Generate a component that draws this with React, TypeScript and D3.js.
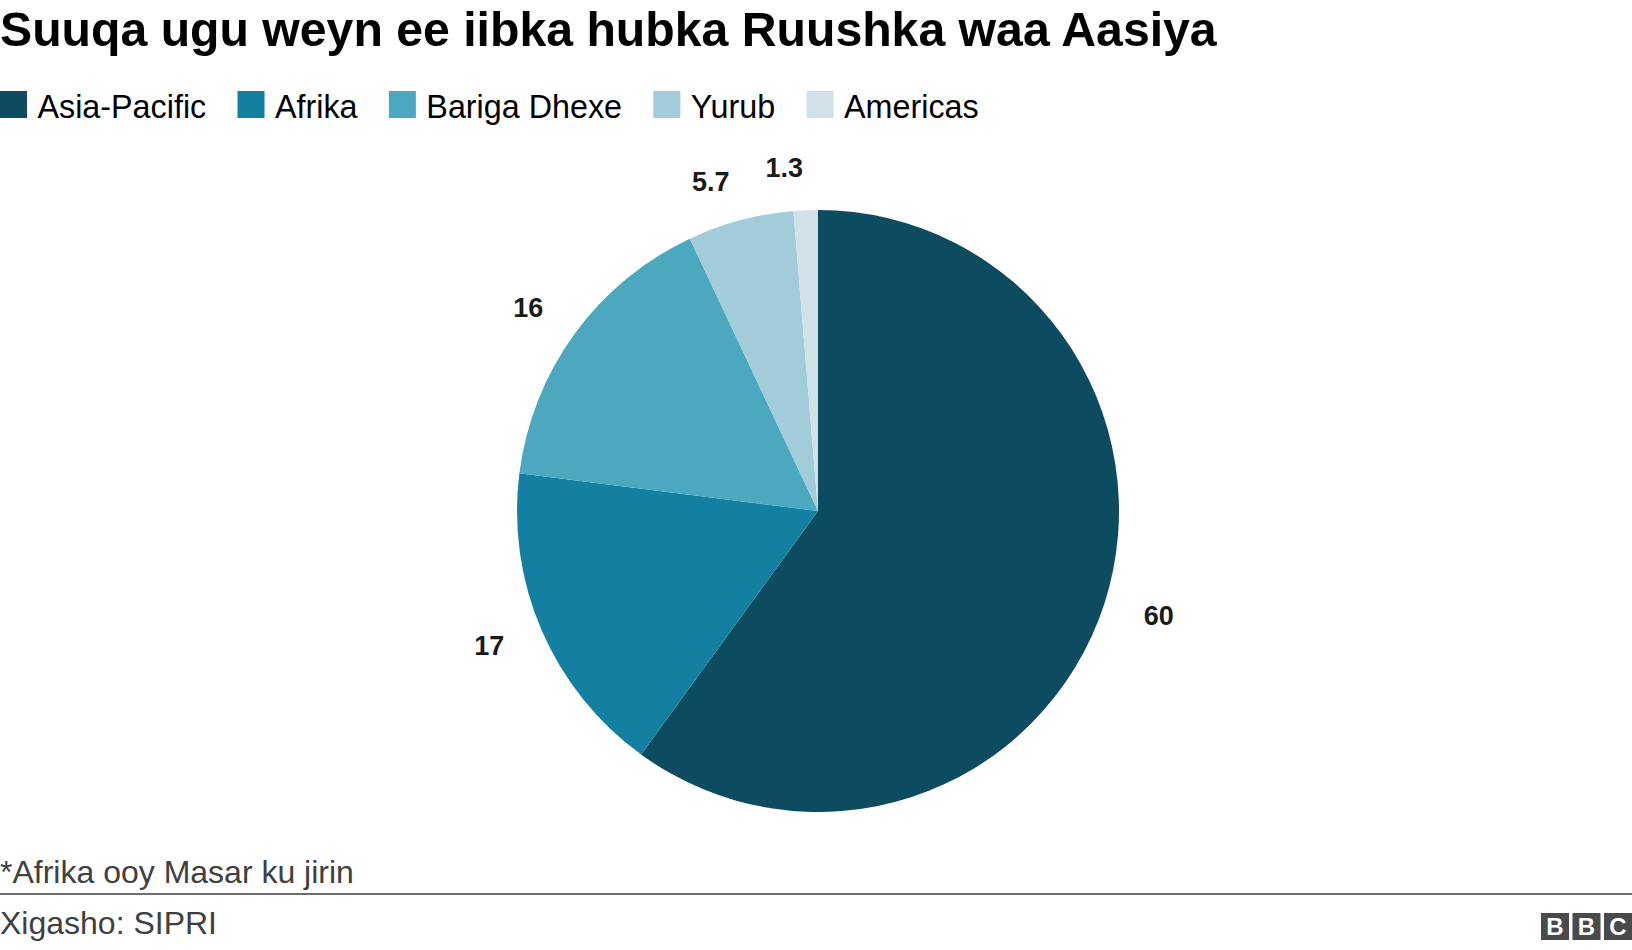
import React from "react";
import * as d3 from "d3";

const TITLE = "Suuqa ugu weyn ee iibka hubka Ruushka waa Aasiya";
const categories = ["Asia-Pacific", "Afrika", "Bariga Dhexe", "Yurub", "Americas"];
const values = [60, 17, 16, 5.7, 1.3];
const valueLabels = ["60", "17", "16", "5.7", "1.3"];
const colors = ["#0d4c60", "#1480a1", "#4ca8be", "#a3ccda", "#d0e2e7"];
const NOTE = "*Afrika ooy Masar ku jirin";
const SOURCE = "Xigasho: SIPRI";

const W = 1632;
const H = 950;
const FONT = "'Liberation Sans', Arial, Helvetica, sans-serif";

function measure(text: string, font: string): number {
  const c = document.createElement("canvas");
  const ctx = c.getContext("2d")!;
  ctx.font = font;
  return ctx.measureText(text).width;
}

export default function App() {
  const cx = 818;
  const cy = 511;
  const r = 301;
  const Rx = r * 1.19;
  const Ry = r * 1.14;

  const pie = d3
    .pie<number>()
    .sort(null)
    .startAngle(0)
    .endAngle(2 * Math.PI)
    .value((d) => d);
  const arcs = pie(values);
  const arcGen = d3.arc<d3.PieArcDatum<number>>().innerRadius(0).outerRadius(r);

  // label placement: keep labels off the 12 o'clock line, keep spacing
  const labelFont = `bold 27px ${FONT}`;
  const widths = valueLabels.map((t) => measure(t, labelFont));
  const angles = arcs.map((a) => (a.startAngle + a.endAngle) / 2);
  const pad = 15;
  const pos = (ang: number) => [Math.sin(ang) * Rx, -Math.cos(ang) * Ry];
  angles.forEach((ang, i) => {
    if (Math.cos(ang) > 0.9) {
      const [x] = pos(ang);
      if (ang > Math.PI && x + widths[i] / 2 > -pad) {
        angles[i] = 2 * Math.PI + Math.asin((-pad - widths[i] / 2) / Rx);
      } else if (ang < Math.PI && x - widths[i] / 2 < pad) {
        angles[i] = Math.asin((pad + widths[i] / 2) / Rx);
      }
    }
  });
  for (let i = angles.length - 2; i >= 0; i--) {
    const minSep = (widths[i] + widths[i + 1]) / 2 + 37;
    let guard = 0;
    while (guard < 2000) {
      const [x1, y1] = pos(angles[i]);
      const [x2, y2] = pos(angles[i + 1]);
      if (Math.hypot(x2 - x1, y2 - y1) >= minSep) break;
      angles[i] -= 0.001;
      guard++;
    }
  }

  // legend layout
  const legendSize = 32.3;
  const legendFont = `${legendSize}px ${FONT}`;
  let lx = 0;
  const legendItems = categories.map((c, i) => {
    const w = measure(c, legendFont);
    const item = { x: lx, label: c, color: colors[i] };
    lx += 37.5 + w + 31.3;
    return item;
  });

  const bbcX = 1541;
  const boxW = 28;
  const boxGap = 3.5;

  return (
    <div style={{ position: "absolute", left: 0, top: 0 }}>
      <svg width={W} height={H} style={{ display: "block", background: "#fff" }} fontFamily={FONT}>
        <text x={0} y={46} fontSize={48.2} fontWeight="bold" fill="#000">
          {TITLE}
        </text>
        {legendItems.map((it) => (
          <g key={it.label}>
            <rect x={it.x} y={91} width={27} height={27} fill={it.color} />
            <text x={it.x + 37.5} y={117.5} fontSize={legendSize} fill="#000">
              {it.label}
            </text>
          </g>
        ))}
        <g transform={`translate(${cx},${cy})`}>
          {arcs.map((a, i) => (
            <path key={categories[i]} d={arcGen(a) || ""} fill={colors[i]} />
          ))}
          {arcs.map((a, i) => {
            const [x, y] = pos(angles[i]);
            return (
              <text
                key={"l" + i}
                x={x}
                y={y}
                dy="0.29em"
                textAnchor="middle"
                fontSize={27}
                fontWeight="bold"
                fill="#1a1a1a"
              >
                {valueLabels[i]}
              </text>
            );
          })}
        </g>
        <text x={0} y={883} fontSize={32} fill="#404040">
          {NOTE}
        </text>
        <line x1={0} x2={W} y1={894} y2={894} stroke="#6e6e6e" strokeWidth={2} />
        <text x={0} y={933.5} fontSize={32} fill="#404040">
          {SOURCE}
        </text>
        {["B", "B", "C"].map((ch, i) => (
          <g key={"bbc" + i}>
            <rect x={bbcX + i * (boxW + boxGap)} y={913} width={boxW} height={27} fill="#4a4a4a" />
            <text
              x={bbcX + i * (boxW + boxGap) + boxW / 2}
              y={935}
              textAnchor="middle"
              fontSize={24}
              fontWeight="bold"
              fill="#fff"
            >
              {ch}
            </text>
          </g>
        ))}
      </svg>
    </div>
  );
}
